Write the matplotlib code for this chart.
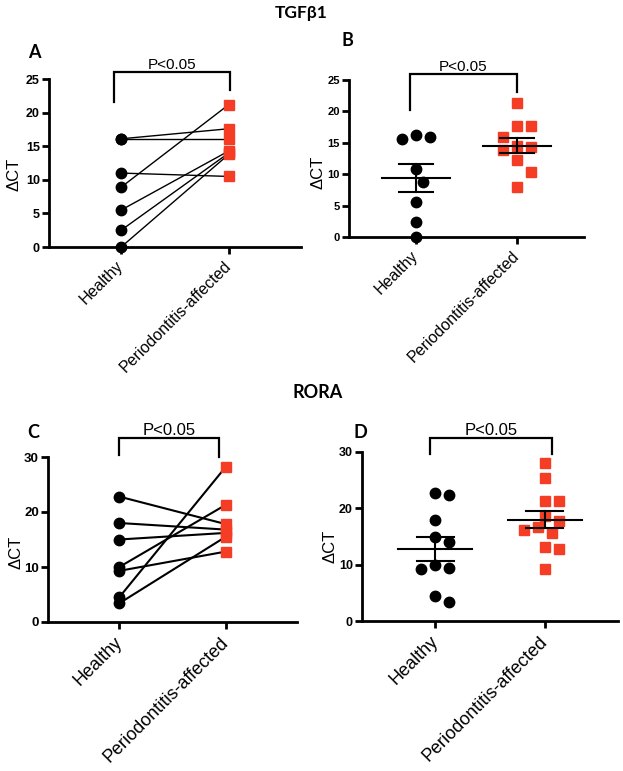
import numpy as np
import matplotlib.pyplot as plt

plt.rcParams['font.family'] = ['Liberation Sans', 'DejaVu Sans']

# group names on the x axis
groups = ['Healthy', 'Periodontitis-affected']

# TGFβ1 paired values (A)
A_healthy = [16.1, 16.0, 11.0, 8.9, 5.5, 2.5, 0.0]
A_perio = [17.6, 16.0, 10.5, 21.2, 14.3, 14.0, 13.8]

# TGFβ1 all samples (B)
B_healthy = [16.2, 15.6, 16.0, 10.9, 8.8, 5.5, 2.4, 0.0]
B_perio = [21.3, 17.6, 17.6, 16.0, 14.5, 13.8, 14.3, 12.2, 10.4, 8.0]

# RORA paired values (C)
C_healthy = [22.8, 18.0, 15.0, 10.0, 9.3, 4.5, 3.4]
C_perio = [17.8, 16.8, 16.2, 21.3, 12.8, 28.2, 15.5]

# RORA all samples (D)
D_healthy = [22.4, 22.8, 17.9, 14.1, 14.9, 9.45, 9.2, 9.9, 3.3, 4.4]
D_perio = [28.1, 25.4, 21.3, 21.3, 18.7, 17.8, 16.6, 15.7, 16.1, 13.05, 12.7, 9.2]

RED = '#f43d24'
W, H = 623, 771
XL = (-0.67, 1.67)

fig = plt.figure(figsize=(W / 100, H / 100), dpi=100)


def px_axes(x0, x1, y0, y1):
    return fig.add_axes([x0 / W, 1 - y1 / H, (x1 - x0) / W, (y1 - y0) / H])


def style(ax, ymax, step, tick_fs, lab_fs, lab_xy, pad):
    ax.set_xlim(*XL)
    ax.set_ylim(0, ymax)
    for s in ['top', 'right']:
        ax.spines[s].set_visible(False)
    for s in ['left', 'bottom']:
        ax.spines[s].set_linewidth(2)
    ax.set_yticks(np.arange(0, ymax + 1, step))
    ax.tick_params(width=2, length=5, direction='out')
    ax.tick_params(axis='x', pad=pad)
    ax.tick_params(axis='y', pad=1.5)
    for t in ax.get_yticklabels():
        t.set_fontweight('bold')
        t.set_fontsize(tick_fs)
    ax.set_xticks([0, 1])
    ax.set_xticklabels(groups, rotation=45, ha='right', va='center',
                       rotation_mode='anchor', fontsize=lab_fs)
    ax.set_ylabel('ΔCT', fontsize=12, va='center')
    ax.yaxis.set_label_coords(*lab_xy)


def bracket(ax, x0, x1, ytop, yl, yr, fs):
    ax.plot([x0, x0, x1, x1], [yl, ytop, ytop, yr], color='black', lw=1.6,
            clip_on=False, solid_joinstyle='miter')
    ax.text((x0 + x1) / 2, ytop, 'P<0.05', ha='center', va='bottom',
            fontsize=fs)


def swarm(vals, xc, ax_px_w, ax_px_h, ymax, d=14):
    # spread points sideways so they do not overlap (pixel space)
    sx = ax_px_w / (XL[1] - XL[0])
    sy = ax_px_h / ymax
    order = np.argsort(vals)[::-1]
    placed = []
    xs = np.zeros(len(vals))
    cands = [0]
    for k in range(1, 10):
        cands += [k * d / 2, -k * d / 2]
    for i in order:
        y = vals[i] * sy
        for c in cands:
            if all((c - px) ** 2 + (y - py) ** 2 >= (d * 0.97) ** 2 for px, py in placed):
                placed.append((c, y))
                xs[i] = xc + c / sx
                break
    return xs


def mean_sem(ax, vals, xc):
    v = np.array(vals)
    m = v.mean()
    se = v.std(ddof=1) / np.sqrt(len(v))
    ax.plot([xc - 0.34, xc + 0.34], [m, m], color='black', lw=1.5, zorder=4)
    ax.plot([xc, xc], [m - se, m + se], color='black', lw=1.5, zorder=4)
    for yy in (m - se, m + se):
        ax.plot([xc - 0.17, xc + 0.17], [yy, yy], color='black', lw=1.5, zorder=4)


# ---- A ----
axA = px_axes(49, 301, 79, 247)
style(axA, 25, 5, 9, 11.5, (-0.14, 0.43), 7)
for h, p in zip(A_healthy, A_perio):
    axA.plot([0, 1], [h, p], color='black', lw=1.0, zorder=2)
axA.plot(np.zeros(len(A_healthy)), A_healthy, 'o', color='black', ms=7.5,
         clip_on=False, zorder=3)
axA.plot(np.ones(len(A_perio)), A_perio, 's', color=RED, ms=7.5,
         clip_on=False, zorder=3)
bracket(axA, -0.065, 1.01, 26.0, 21.6, 23.4, 11)

# ---- B ----
axB = px_axes(349, 584, 80, 237)
style(axB, 25, 5, 8, 11.5, (-0.13, 0.41), 7)
axB.plot(swarm(B_healthy, 0, 235, 157, 25), B_healthy, 'o', color='black',
         ms=7.5, clip_on=False, zorder=3)
axB.plot(swarm(B_perio, 1, 235, 157, 25), B_perio, 's', color=RED,
         ms=7.5, clip_on=False, zorder=3)
mean_sem(axB, B_healthy, 0)
mean_sem(axB, B_perio, 1)
bracket(axB, -0.06, 1.0, 26.0, 20.2, 23.1, 11)

# ---- C ----
axC = px_axes(48, 297, 457, 622)
style(axC, 30, 10, 9.5, 13, (-0.13, 0.42), 8)
for h, p in zip(C_healthy, C_perio):
    axC.plot([0, 1], [h, p], color='black', lw=1.5, zorder=2)
axC.plot(np.zeros(len(C_healthy)), C_healthy, 'o', color='black', ms=7.5,
         clip_on=False, zorder=3)
axC.plot(np.ones(len(C_perio)), C_perio, 's', color=RED, ms=7.5,
         clip_on=False, zorder=3)
bracket(axC, 0.0, 0.94, 33.5, 30.4, 30.0, 12)

# ---- D ----
axD = px_axes(362, 618, 452, 621)
style(axD, 30, 10, 9, 13, (-0.125, 0.44), 8)
axD.plot(swarm(D_healthy, 0, 256, 169, 30), D_healthy, 'o', color='black',
         ms=7.5, clip_on=False, zorder=3)
axD.plot(swarm(D_perio, 1, 256, 169, 30), D_perio, 's', color=RED,
         ms=7.5, clip_on=False, zorder=3)
mean_sem(axD, D_healthy, 0)
mean_sem(axD, D_perio, 1)
bracket(axD, -0.05, 1.07, 32.4, 29.7, 29.7, 12)

# titles and panel letters
tfont = dict(family=['Lato', 'DejaVu Sans'], fontweight='bold')
fig.text(301 / W, 1 - 13 / H, 'TGFβ1', ha='center', va='center', fontsize=12.5, **tfont)
fig.text(318 / W, 1 - 392 / H, 'RORA', ha='center', va='center', fontsize=13, **tfont)
for lab, x, y in [('A', 34, 52), ('B', 347, 40), ('C', 33, 432), ('D', 360, 432)]:
    fig.text(x / W, 1 - y / H, lab, ha='center', va='center', fontsize=13, **tfont)

fig.savefig('out.png', dpi=100)
